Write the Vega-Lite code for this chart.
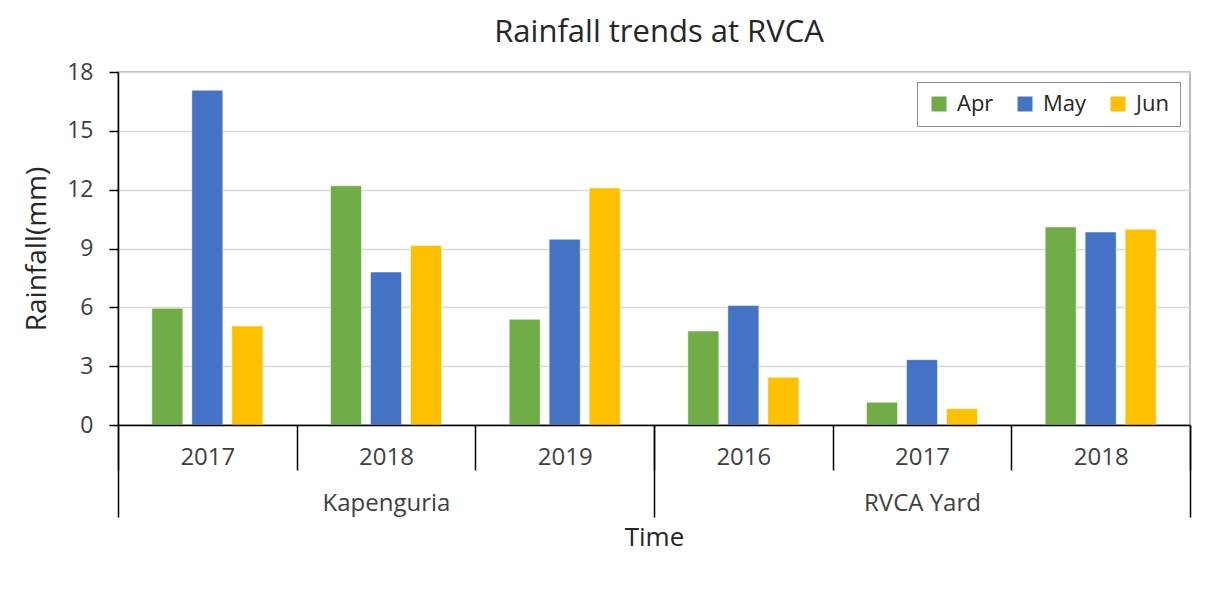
{
  "$schema": "https://vega.github.io/schema/vega-lite/v6.json",
  "width": 1072,
  "height": 353,
  "autosize": {"type": "none"},
  "padding": {"left": 118, "top": 72, "right": 26, "bottom": 166},
  "background": "white",
  "title": {
    "text": "Rainfall trends at RVCA",
    "font": "Open Sans",
    "fontSize": 31,
    "fontWeight": "normal",
    "color": "#262626",
    "anchor": "middle",
    "frame": "group",
    "baseline": "alphabetic",
    "offset": 29,
    "dx": 5,
    "dy": 41
  },
  "data": {
    "values": [
      {"site": "Kapenguria", "period": "Kapenguria|2017", "month": "Apr", "rainfall": 5.95},
      {"site": "Kapenguria", "period": "Kapenguria|2017", "month": "May", "rainfall": 17.07},
      {"site": "Kapenguria", "period": "Kapenguria|2017", "month": "Jun", "rainfall": 5.05},
      {"site": "Kapenguria", "period": "Kapenguria|2018", "month": "Apr", "rainfall": 12.2},
      {"site": "Kapenguria", "period": "Kapenguria|2018", "month": "May", "rainfall": 7.8},
      {"site": "Kapenguria", "period": "Kapenguria|2018", "month": "Jun", "rainfall": 9.15},
      {"site": "Kapenguria", "period": "Kapenguria|2019", "month": "Apr", "rainfall": 5.39},
      {"site": "Kapenguria", "period": "Kapenguria|2019", "month": "May", "rainfall": 9.47},
      {"site": "Kapenguria", "period": "Kapenguria|2019", "month": "Jun", "rainfall": 12.09},
      {"site": "RVCA Yard", "period": "RVCA Yard|2016", "month": "Apr", "rainfall": 4.79},
      {"site": "RVCA Yard", "period": "RVCA Yard|2016", "month": "May", "rainfall": 6.09},
      {"site": "RVCA Yard", "period": "RVCA Yard|2016", "month": "Jun", "rainfall": 2.43},
      {"site": "RVCA Yard", "period": "RVCA Yard|2017", "month": "Apr", "rainfall": 1.16},
      {"site": "RVCA Yard", "period": "RVCA Yard|2017", "month": "May", "rainfall": 3.33},
      {"site": "RVCA Yard", "period": "RVCA Yard|2017", "month": "Jun", "rainfall": 0.83},
      {"site": "RVCA Yard", "period": "RVCA Yard|2018", "month": "Apr", "rainfall": 10.1},
      {"site": "RVCA Yard", "period": "RVCA Yard|2018", "month": "May", "rainfall": 9.84},
      {"site": "RVCA Yard", "period": "RVCA Yard|2018", "month": "Jun", "rainfall": 9.98}
    ]
  },
  "layer": [
    {
      "mark": {"type": "bar", "stroke": "#ffffff", "strokeOpacity": 0.5, "strokeWidth": 1},
      "encoding": {
        "x": {
          "field": "period",
          "type": "nominal",
          "sort": null,
          "scale": {"paddingInner": 0, "paddingOuter": 0},
          "axis": {
            "title": null,
            "labelExpr": "split(datum.label, '|')[1]",
            "labelAngle": 0,
            "labelFont": "Open Sans",
            "labelFontSize": 24,
            "labelColor": "#404040",
            "labelPadding": -25,
            "tickBand": "extent",
            "tickSize": 45,
            "tickColor": "#000000",
            "tickWidth": 1.5,
            "domainColor": "#000000",
            "domainWidth": 1.5,
            "grid": false,
            "zindex": 1
          }
        },
        "xOffset": {
          "field": "month",
          "type": "nominal",
          "sort": ["Apr", "May", "Jun"],
          "scale": {"paddingInner": 0.225, "paddingOuter": 0.846}
        },
        "y": {
          "field": "rainfall",
          "type": "quantitative",
          "scale": {"domain": [0, 18], "nice": false},
          "axis": {
            "title": "Rainfall(mm)",
            "titleFont": "Open Sans",
            "titleFontSize": 28,
            "titleFontWeight": "normal",
            "titleColor": "#262626",
            "titlePadding": 15,
            "values": [0, 3, 6, 9, 12, 15, 18],
            "labelFont": "Open Sans",
            "labelFontSize": 23,
            "labelColor": "#404040",
            "labelPadding": 16,
            "tickSize": 9,
            "tickColor": "#000000",
            "tickWidth": 1.5,
            "domainColor": "#000000",
            "domainWidth": 1.5,
            "grid": true,
            "gridColor": "#d9d9d9",
            "gridWidth": 1.5
          }
        },
        "color": {
          "field": "month",
          "type": "nominal",
          "sort": ["Apr", "May", "Jun"],
          "scale": {"domain": ["Apr", "May", "Jun"], "range": ["#70ad47", "#4472c4", "#ffc000"]},
          "legend": {
            "title": null,
            "orient": "top-right",
            "offset": 10,
            "direction": "horizontal",
            "symbolType": "square",
            "symbolSize": 225,
            "symbolStrokeWidth": 0,
            "labelFont": "Open Sans",
            "labelFontSize": 22,
            "labelColor": "#262626",
            "labelOffset": 7,
            "columnPadding": 20,
            "padding": 11,
            "strokeColor": "#8c8c8c",
            "fillColor": "white"
          }
        }
      }
    },
    {
      "mark": {"type": "rule", "opacity": 0},
      "encoding": {
        "x": {
          "field": "site",
          "type": "nominal",
          "sort": null,
          "scale": {"paddingInner": 0, "paddingOuter": 0},
          "axis": {
            "orient": "bottom",
            "title": "Time",
            "titleFont": "Open Sans",
            "titleFontSize": 26,
            "titleFontWeight": "normal",
            "titleColor": "#262626",
            "titlePadding": 7,
            "labelAngle": 0,
            "labelFont": "Open Sans",
            "labelFontSize": 24,
            "labelColor": "#404040",
            "labelPadding": -26,
            "tickBand": "extent",
            "tickSize": 92,
            "tickColor": "#000000",
            "tickWidth": 1.5,
            "domain": false,
            "grid": false
          }
        }
      }
    }
  ],
  "resolve": {"scale": {"x": "independent"}, "axis": {"x": "independent"}},
  "config": {
    "view": {"stroke": "#a6a6a6", "strokeWidth": 1.5}
  }
}
